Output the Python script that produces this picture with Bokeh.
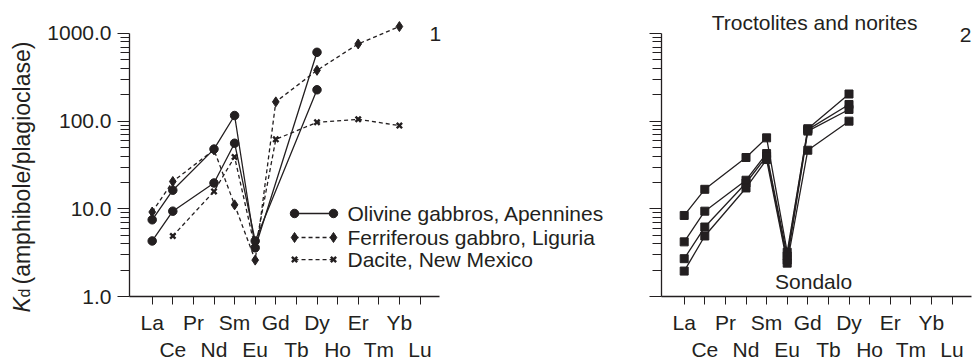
import math

from bokeh.embed import file_html
from bokeh.models import FixedTicker, Label, LinearAxis, LogAxis, Range1d
from bokeh.plotting import figure
from bokeh.resources import INLINE

# Rare-earth elements along the x axis (Pm omitted)
ELEMENTS = ["La", "Ce", "Pr", "Nd", "Sm", "Eu", "Gd",
            "Tb", "Dy", "Ho", "Er", "Tm", "Yb", "Lu"]

# Panel 1: Kd (amphibole/plagioclase)
olivine_gabbro_a = [7.5, 16.3, None, 48, 116, 3.6, None, None, 610, None, None, None, None, None]
olivine_gabbro_b = [4.3, 9.4, None, 19.7, 56, 4.3, None, None, 228, None, None, None, None, None]
ferriferous_gabbro = [9.2, 20.5, None, 47, 11.1, 2.6, 166, None, 380, None, 760, None, 1200, None]
dacite = [None, 4.9, None, 15.8, 39, 3.5, 62, None, 97, None, 105, None, 89, None]

# Panel 2: troctolites and norites, Sondalo
sondalo_1 = [8.4, 16.7, None, 38.5, 64.5, 3.2, 82, None, 204, None, None, None, None, None]
sondalo_2 = [4.2, 9.4, None, 21.2, 42.7, 2.9, 80, None, 155, None, None, None, None, None]
sondalo_3 = [2.7, 6.2, None, 19.7, 39.8, 2.6, 77, None, 136, None, None, None, None, None]
sondalo_4 = [1.95, 4.9, None, 17.3, 36.5, 2.4, 46.6, None, 100, None, None, None, None, None]

Y_TICKS = [1, 10, 100, 1000]
Y_TICK_LABELS = ["1.0", "10.0", "100.0", "1000.0"]

LEGEND_NAMES = ["Olivine gabbros, Apennines",
                "Ferriferous gabbro, Liguria",
                "Dacite, New Mexico"]

FONT = "Liberation Sans"
FONT_SIZE = "21px"
INK = "#231f20"
DASH = "4 3"

# canvas geometry: both panels share one log y scale; each panel has its own x range
W, H = 973, 359
PX_PER_ELEMENT = 20.6
PX_PER_DECADE = 87.67
Y_ONE_PX = 296           # pixel row of Kd = 1 (from top)
LEFT_LA_PX = 151.7       # pixel column of La, panel 1
RIGHT_LA_PX = 683.7      # pixel column of La, panel 2
AXIS_X_START = -1.1      # where each panel's x axis begins (element units)
AXIS_X_END = 13.95

y_lo = 10 ** (-(H - Y_ONE_PX) / PX_PER_DECADE)
y_hi = 10 ** (Y_ONE_PX / PX_PER_DECADE)


def x_range_for(la_px):
    start = -la_px / PX_PER_ELEMENT
    return Range1d(start, start + W / PX_PER_ELEMENT)


p = figure(width=W, height=H, x_range=x_range_for(LEFT_LA_PX),
           y_range=Range1d(y_lo, y_hi), y_axis_type="log",
           x_axis_location=None, y_axis_location=None,
           output_backend="svg", toolbar_location=None,
           min_border=0, min_border_left=0, min_border_right=0,
           min_border_top=0, min_border_bottom=0)
p.extra_x_ranges = {"right": x_range_for(RIGHT_LA_PX)}
p.outline_line_color = None
p.grid.visible = False
p.background_fill_color = "white"
p.border_fill_color = "white"

MINOR = [m * d for d in (1, 10, 100) for m in range(2, 10)]


def add_axes(range_name, show_y_labels):
    # element axis with ticks at every position, labels on even positions
    xa = LinearAxis(x_range_name=range_name, fixed_location=1,
                    bounds=(AXIS_X_START, AXIS_X_END),
                    ticker=FixedTicker(ticks=list(range(len(ELEMENTS)))),
                    major_label_overrides={i: (ELEMENTS[i] if i % 2 == 0 else "")
                                           for i in range(len(ELEMENTS))},
                    axis_line_color=INK, axis_line_width=1.3,
                    major_tick_line_color=INK, major_tick_line_width=1,
                    major_tick_out=8, major_tick_in=0, minor_tick_line_color=None,
                    major_label_standoff=6, major_label_text_font=FONT,
                    major_label_text_font_size=FONT_SIZE, major_label_text_color=INK)
    p.add_layout(xa, "below")

    # second row of element labels (odd positions)
    odd = list(range(1, len(ELEMENTS), 2))
    xb = LinearAxis(x_range_name=range_name, fixed_location=1,
                    bounds=(AXIS_X_START, AXIS_X_END),
                    ticker=FixedTicker(ticks=odd),
                    major_label_overrides={i: ELEMENTS[i] for i in odd},
                    axis_line_color=None, major_tick_line_color=None,
                    minor_tick_line_color=None, major_tick_out=8, major_tick_in=0,
                    major_label_standoff=33, major_label_text_font=FONT,
                    major_label_text_font_size=FONT_SIZE, major_label_text_color=INK)
    p.add_layout(xb, "below")

    # logarithmic Kd axis
    ya = LogAxis(x_range_name=range_name, fixed_location=AXIS_X_START,
                 bounds=(1, 1000),
                 ticker=FixedTicker(ticks=Y_TICKS, minor_ticks=MINOR),
                 axis_line_color=INK, axis_line_width=1.3,
                 major_tick_line_color=INK, minor_tick_line_color=INK,
                 major_tick_out=12, major_tick_in=0,
                 minor_tick_out=9, minor_tick_in=0,
                 major_label_standoff=6, major_label_text_font=FONT,
                 major_label_text_font_size=FONT_SIZE, major_label_text_color=INK)
    if show_y_labels:
        ya.major_label_overrides = dict(zip(Y_TICKS, Y_TICK_LABELS))
    else:
        ya.major_label_overrides = {t: "" for t in Y_TICKS}
    p.add_layout(ya, "left")


add_axes("default", True)
add_axes("right", False)


def positions(values):
    xs, ys = [], []
    for i, v in enumerate(values):
        if v is not None:
            xs.append(i)
            ys.append(v)
    return xs, ys


def draw_marks(xs, ys, marker, dashed, size, range_name="default"):
    p.line(xs, ys, line_color=INK, line_width=1.3,
           line_dash=DASH if dashed else "solid", x_range_name=range_name)
    if marker == "x":
        p.scatter(xs, ys, marker="x", size=size, line_color=INK, line_width=2.4,
                  x_range_name=range_name)
    else:
        p.scatter(xs, ys, marker=marker, size=size, fill_color=INK, line_color=INK,
                  x_range_name=range_name)


def add_text(text, x, y, range_name="default", size=FONT_SIZE, align="left",
             baseline="middle", style="normal", angle=0.0, x_offset=0, y_offset=0):
    p.add_layout(Label(x=x, y=y, x_range_name=range_name, text=text,
                       text_font=FONT, text_font_size=size, text_font_style=style,
                       text_color=INK, text_align=align, text_baseline=baseline,
                       angle=angle, x_offset=x_offset, y_offset=y_offset))


# ---- panel 1 ----
STYLES = {"olivine": ("circle", False, 8.5),
          "ferriferous": ("diamond", True, 10),
          "dacite": ("x", True, 7.5)}

for series in (olivine_gabbro_a, olivine_gabbro_b):
    draw_marks(*positions(series), *STYLES["olivine"])
draw_marks(*positions(ferriferous_gabbro), *STYLES["ferriferous"])
draw_marks(*positions(dacite), *STYLES["dacite"])

# legend keys and names
LEGEND_X0, LEGEND_X1, LEGEND_TEXT_X = 6.91, 8.80, 9.48
LEGEND_ROWS = [8.85, 4.71, 2.64]
for name, y, key in zip(LEGEND_NAMES, LEGEND_ROWS, ("olivine", "ferriferous", "dacite")):
    draw_marks([LEGEND_X0, LEGEND_X1], [y, y], *STYLES[key])
    add_text(name, LEGEND_TEXT_X, y)

# y-axis title: K (italic) with subscript d
YT_X = -5.95
add_text("K", YT_X, 1, size="23px", style="italic", baseline="alphabetic",
         angle=math.pi / 2, x_offset=-8, y_offset=-16)
add_text("d", YT_X, 1, size="16px", baseline="alphabetic",
         angle=math.pi / 2, x_offset=-5, y_offset=-1)
add_text("(amphibole/plagioclase)", YT_X, 1, size="23px", baseline="alphabetic",
         angle=math.pi / 2, x_offset=-8, y_offset=12)

add_text("1", 13.75, 1000, align="center", y_offset=-1)

# ---- panel 2 ----
for series in (sondalo_1, sondalo_2, sondalo_3, sondalo_4):
    draw_marks(*positions(series), "square", False, 8, range_name="right")

add_text("Troctolites and norites", 6.33, 1000, range_name="right",
         align="center", y_offset=11)
add_text("2", 13.66, 1000, range_name="right", align="center", y_offset=-2)
add_text("Sondalo", 6.28, 1, range_name="right", align="center", y_offset=15)

open("out.html", "w").write(file_html(p, INLINE))
